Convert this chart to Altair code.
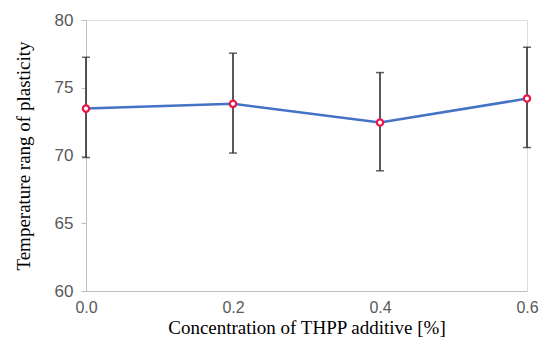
import altair as alt
import pandas as pd

conc = [0.0, 0.2, 0.4, 0.6]
mean = [73.46, 73.81, 72.43, 74.2]
low = [69.85, 70.18, 68.87, 70.59]
high = [77.25, 77.55, 76.12, 77.99]
x_ticks = [0.0, 0.2, 0.4, 0.6]
y_ticks = [60, 65, 70, 75, 80]

df = pd.DataFrame({"conc": conc, "mean": mean, "low": low, "high": high})

x = alt.X("conc:Q", scale=alt.Scale(domain=[0, 0.6], nice=False),
          axis=alt.Axis(values=x_ticks, format=".1f", title="Concentration of THPP additive [%]",
                        ticks=False, grid=False, labelPadding=8, labelFontSize=16,
                        labelColor="#595959", labelFont="Liberation Sans",
                        titleFont="Liberation Serif", titleFontSize=19, titleFontWeight="normal",
                        titleColor="#000000", titlePadding=3, domainColor="#bfbfbf",
                        labelFlush=False))
yscale = alt.Scale(domain=[60, 80], nice=False, zero=False)
yaxis = alt.Axis(values=y_ticks, title="Temperature rang of plasticity", grid=False,
                 tickSize=5, tickColor="#bfbfbf", labelPadding=8, labelFontSize=17,
                 labelColor="#595959", labelFont="Liberation Sans",
                 titleFont="Liberation Serif", titleFontSize=19, titleFontWeight="normal",
                 titleColor="#000000", titlePadding=21, domainColor="#bfbfbf")

base = alt.Chart(df)

line = base.mark_line(color="#4472C4", strokeWidth=2.5).encode(
    x=x, y=alt.Y("mean:Q", scale=yscale, axis=yaxis))
rules = base.mark_rule(color="#222222", strokeWidth=1.5).encode(
    x="conc:Q", y="low:Q", y2="high:Q")
cap_lo = base.mark_tick(color="#222222", orient="horizontal", size=8, thickness=1.5).encode(
    x="conc:Q", y="low:Q")
cap_hi = base.mark_tick(color="#222222", orient="horizontal", size=8, thickness=1.5).encode(
    x="conc:Q", y="high:Q")
pts = base.mark_point(shape="circle", size=40, filled=True, fill="white",
                      stroke="#E8174A", strokeWidth=2.2, opacity=1).encode(
    x="conc:Q", y="mean:Q")

chart = alt.layer(line, rules, cap_lo, cap_hi, pts).properties(
    width=441, height=271,
    autosize=alt.AutoSizeParams(type="none"),
    padding={"left": 78, "top": 12, "right": 13, "bottom": 48},
).configure_view(stroke=None).configure(background="white")

chart.save("out.html", embed_options={"renderer": "svg", "actions": False})
